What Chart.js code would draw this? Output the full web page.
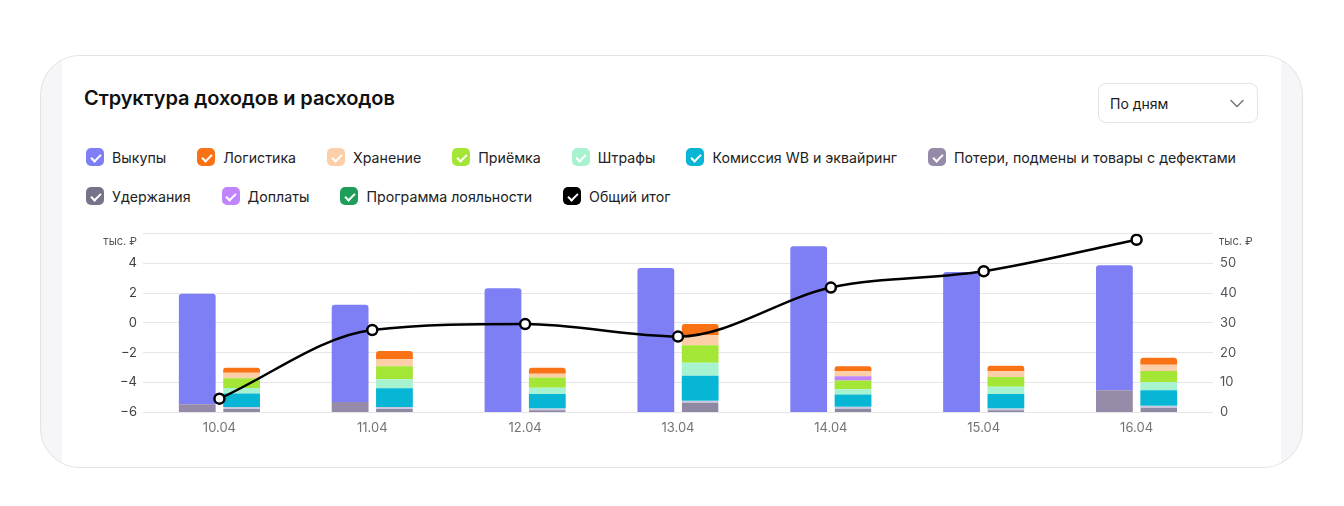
<!DOCTYPE html>
<html lang="ru">
<head>
  <meta charset="UTF-8">
  <title>Структура доходов и расходов</title>
  <script src="https://cdn.jsdelivr.net/npm/chart.js"></script>
  <style>
    html, body { margin: 0; padding: 0; background: #fff; }
    body { width: 1344px; height: 506px; position: relative; font-family: Inter, "Noto Sans", sans-serif; overflow: hidden; }
    .card { position: absolute; left: 40px; top: 55px; width: 1261px; height: 411px; border: 1.5px solid #e2e2e6; border-radius: 40px; background: #f6f6f8; overflow: hidden; }
    .inner { position: absolute; left: 21px; top: 0; width: 1219px; height: 100%; background: #fff; }
    h2 { position: absolute; left: 84px; top: 86px; margin: 0; font-size: 20px; font-weight: 600; color: #111; letter-spacing: -0.1px; }
    .select { position: absolute; left: 1098px; top: 83px; width: 160px; height: 40px; border: 1px solid #e3e3e7; border-radius: 8px; box-sizing: border-box; background: #fff; }
    .select span { position: absolute; left: 11px; top: 11px; font-size: 14px; color: #1a1a1a; }
    .select svg { position: absolute; right: 13px; top: 15px; }
    #legend { position: absolute; left: 86px; top: 146px; width: 1210px; }
    .row { display: flex; column-gap: 31px; margin-bottom: 17px; }
    .item { display: flex; align-items: center; height: 22px; font-size: 14.2px; color: #222; white-space: nowrap; }
    .box { width: 18px; height: 18px; border-radius: 5px; margin-right: 8px; position: relative; }
    .box::after { content: ""; position: absolute; left: 6.5px; top: 3.5px; width: 4px; height: 8px; border: solid #fff; border-width: 0 2px 2px 0; transform: rotate(45deg); }
    #wrap { position: absolute; left: 90px; top: 219px; width: 1180px; height: 221px; }
  </style>
</head>
<body>
  <div class="card"><div class="inner"></div></div>
  <h2>Структура доходов и расходов</h2>
  <div class="select">
    <span>По дням</span>
    <svg width="14" height="9" viewBox="0 0 14 9"><path d="M1 1.5 L7 7.5 L13 1.5" fill="none" stroke="#777" stroke-width="1.5" stroke-linecap="round" stroke-linejoin="round"/></svg>
  </div>
  <div id="legend"></div>
  <div id="wrap"><canvas id="chart"></canvas></div>

  <script>
    const days = ['10.04', '11.04', '12.04', '13.04', '14.04', '15.04', '16.04'];

    // тыс. ₽
    const vykupy     = [37.2, 32.7, 41.7, 48.5, 55.8, 47.1, 42.1];
    const poteri     = [2.6, 3.4, 0, 0, 0, 0, 7.3];
    const uderzhania = [1.7, 1.7, 1.2, 3.8, 1.8, 1.2, 2.1];
    const komissia   = [4.5, 6.3, 4.9, 8.4, 4.1, 4.9, 5.2];
    const shtrafy    = [1.9, 3.0, 2.1, 4.4, 1.8, 2.4, 2.7];
    const priemka    = [3.3, 4.4, 3.4, 5.9, 2.9, 3.3, 3.8];
    const doplaty    = [0, 0, 0, 0, 1.4, 0, 0];
    const hranenie   = [1.8, 2.4, 1.3, 3.4, 1.7, 1.9, 2.1];
    const logistika  = [1.7, 2.7, 2.0, 3.7, 1.7, 1.9, 2.4];
    const loyalnost  = [0, 0, 0, 0, 0, 0, 0];
    const itog       = [4.5, 27.6, 29.6, 25.4, 41.9, 47.4, 58.0];

    const leftTicks = [-6, 6, 2];
    const rightTicks = [0, 60, 10];

    const colors = {
      vykupy: '#7f7ff5',
      logistika: '#f97316',
      hranenie: '#fdcfa8',
      priemka: '#a3e635',
      shtrafy: '#a7f3d0',
      komissia: '#06b6d4',
      poteri: '#958aa8',
      uderzhania: '#8f88a3',
      doplaty: '#c084fc',
      loyalnost: '#1e9e5a',
      itog: '#000000'
    };

    const legendItems = [
      ['Выкупы', colors.vykupy],
      ['Логистика', colors.logistika],
      ['Хранение', colors.hranenie],
      ['Приёмка', colors.priemka],
      ['Штрафы', colors.shtrafy],
      ['Комиссия WB и эквайринг', colors.komissia],
      ['Потери, подмены и товары с дефектами', colors.poteri],
      ['Удержания', '#76748a'],
      ['Доплаты', colors.doplaty],
      ['Программа лояльности', colors.loyalnost],
      ['Общий итог', colors.itog]
    ];
    const legendRows = [legendItems.slice(0, 7), legendItems.slice(7)];

    const legend = document.getElementById('legend');
    legendRows.forEach((items) => {
      const row = document.createElement('div');
      row.className = 'row';
      items.forEach(([name, color]) => {
        const el = document.createElement('div');
        el.className = 'item';
        el.innerHTML = '<div class="box" style="background:' + color + '"></div>' + name;
        row.appendChild(el);
      });
      legend.appendChild(row);
    });

    const topRound = { topLeft: 3, topRight: 3, bottomLeft: 0, bottomRight: 0 };

    function bar(label, data, color, stack, extra) {
      return Object.assign({
        type: 'bar', label, data, stack, yAxisID: 'y2', order: 1,
        backgroundColor: color, borderWidth: 0
      }, extra || {});
    }

    const unitLabel = {
      id: 'unitLabel',
      afterDraw(chart) {
        const { ctx, chartArea } = chart;
        ctx.save();
        ctx.font = '11px Inter, sans-serif';
        ctx.fillStyle = '#555';
        ctx.textBaseline = 'middle';
        ctx.textAlign = 'right';
        ctx.fillText('тыс. ₽', chartArea.left - 6, chartArea.top + 8);
        ctx.textAlign = 'left';
        ctx.fillText('тыс. ₽', chartArea.right + 6, chartArea.top + 8);
        ctx.restore();
      }
    };

    new Chart(document.getElementById('chart'), {
      data: {
        labels: days,
        datasets: [
          {
            type: 'line', label: 'Общий итог', data: itog, yAxisID: 'y2', order: 0,
            borderColor: colors.itog, borderWidth: 2.5, cubicInterpolationMode: 'monotone',
            pointRadius: 5, pointBackgroundColor: '#fff', pointBorderColor: '#000', pointBorderWidth: 2.5
          },
          bar('Потери, подмены и товары с дефектами', poteri, colors.poteri, 'in'),
          bar('Выкупы', vykupy, colors.vykupy, 'in', { borderRadius: topRound }),
          bar('Удержания', uderzhania, colors.uderzhania, 'out', { borderWidth: { top: 2 }, borderColor: '#cdc7df' }),
          bar('Комиссия WB и эквайринг', komissia, colors.komissia, 'out'),
          bar('Штрафы', shtrafy, colors.shtrafy, 'out'),
          bar('Приёмка', priemka, colors.priemka, 'out'),
          bar('Доплаты', doplaty, colors.doplaty, 'out'),
          bar('Хранение', hranenie, colors.hranenie, 'out'),
          bar('Логистика', logistika, colors.logistika, 'out', { borderRadius: topRound }),
          bar('Программа лояльности', loyalnost, colors.loyalnost, 'out')
        ]
      },
      options: {
        responsive: true,
        maintainAspectRatio: false,
        animation: false,
        layout: { padding: 0 },
        datasets: { bar: { categoryPercentage: 0.58, barPercentage: 0.83 } },
        plugins: { legend: { display: false }, tooltip: { enabled: false } },
        scales: {
          x: {
            stacked: true,
            grid: { display: false, drawTicks: false },
            border: { display: false },
            ticks: { padding: 8, color: '#737373', font: { family: 'Inter', size: 13 } },
            afterFit(s) { s.height = 28; }
          },
          y: {
            position: 'left',
            min: leftTicks[0], max: leftTicks[1],
            grid: { color: '#e6e6ea', drawTicks: false },
            border: { display: false },
            ticks: {
              stepSize: leftTicks[2], padding: 6, color: '#3f3f46',
              font: { family: 'Inter', size: 13 },
              callback: (v) => v === leftTicks[1] ? '' : (v < 0 ? '\u2212' + Math.abs(v) : String(v))
            },
            afterFit(s) { s.width = 53; }
          },
          y2: {
            position: 'right',
            stacked: true,
            min: rightTicks[0], max: rightTicks[1],
            grid: { display: false, drawTicks: false },
            border: { display: false },
            ticks: {
              stepSize: rightTicks[2], padding: 7, color: '#52525b',
              font: { family: 'Inter', size: 13 },
              callback: (v) => v === rightTicks[1] ? '' : String(v)
            },
            afterFit(s) { s.width = 57; }
          }
        }
      },
      plugins: [unitLabel]
    });
  </script>
</body>
</html>
